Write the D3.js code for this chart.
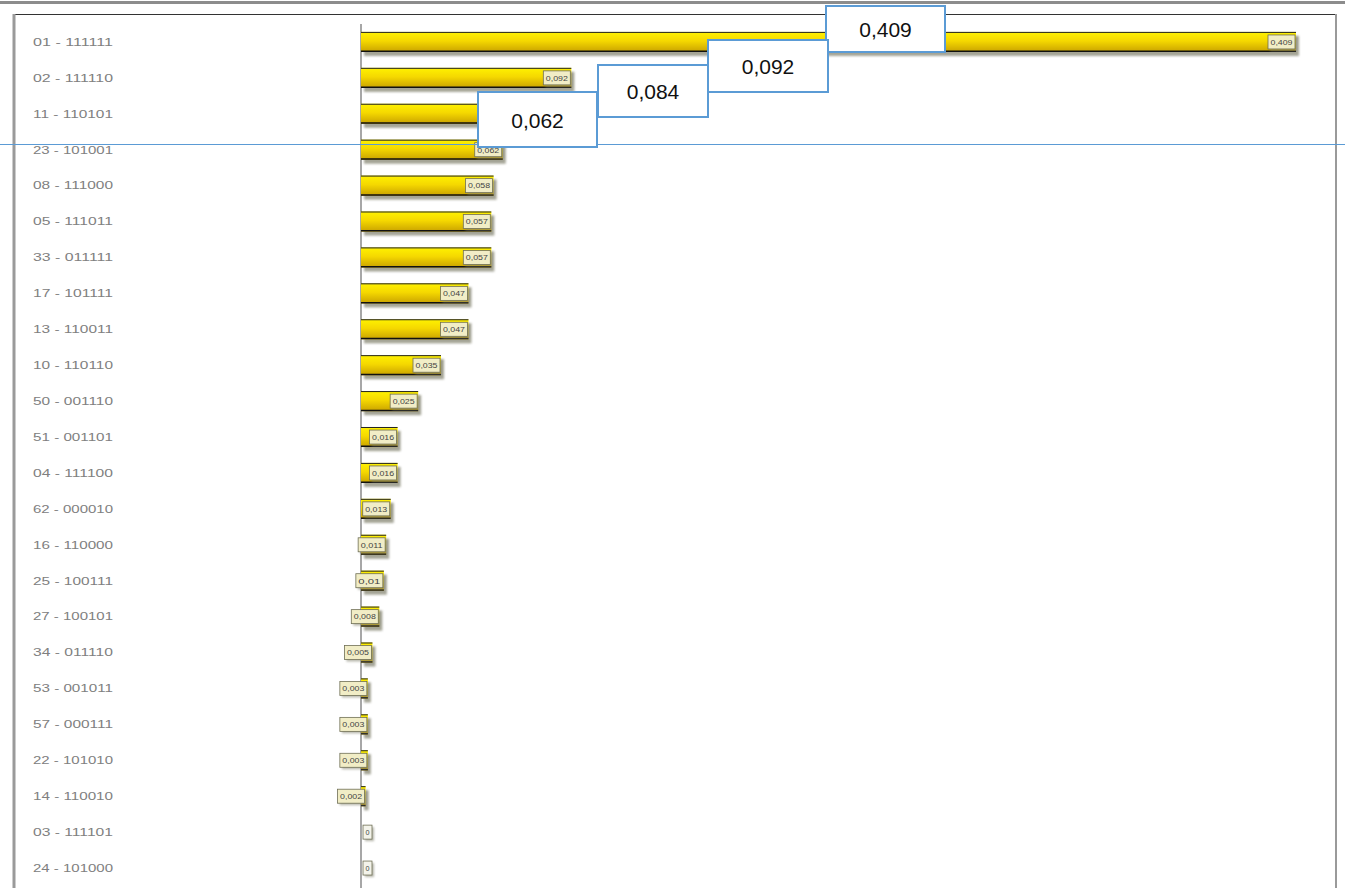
<!DOCTYPE html>
<html>
<head>
<meta charset="utf-8">
<script src="https://cdn.jsdelivr.net/npm/d3@7"></script>
<style>
  html, body { margin: 0; padding: 0; background: #fff; }
  svg { display: block; }
</style>
</head>
<body>
<div id="chart"></div>
<script>
// categories and values
var categories = ["01 - 111111", "02 - 111110", "11 - 110101", "23 - 101001", "08 - 111000", "05 - 111011",
    "33 - 011111", "17 - 101111", "13 - 110011", "10 - 110110", "50 - 001110", "51 - 001101",
    "04 - 111100", "62 - 000010", "16 - 110000", "25 - 100111", "27 - 100101", "34 - 011110",
    "53 - 001011", "57 - 000111", "22 - 101010", "14 - 110010", "03 - 111101", "24 - 101000"];
var values = [0.409, 0.092, 0.084, 0.062, 0.058, 0.057, 0.057, 0.047, 0.047, 0.035, 0.025, 0.016,
    0.016, 0.013, 0.011, 0.01, 0.008, 0.005, 0.003, 0.003, 0.003, 0.002, 0, 0];
var callouts = ["0,409", "0,092", "0,084", "0,062"];

var W = 1345, H = 888;

var fmt = function (v) {
    return v === 0 ? "0" : String(v).replace(".", ",");
};

var svg = d3.select("#chart").append("svg")
    .attr("width", W)
    .attr("height", H)
    .attr("font-family", "Liberation Sans, Arial, sans-serif");

var defs = svg.append("defs");
var grad = defs.append("linearGradient").attr("id", "gold").attr("x1", 0).attr("y1", 0).attr("x2", 0).attr("y2", 1);
grad.append("stop").attr("offset", "0%").attr("stop-color", "#fff200");
grad.append("stop").attr("offset", "45%").attr("stop-color", "#f5d800");
grad.append("stop").attr("offset", "100%").attr("stop-color", "#c9a200");
var blur = defs.append("filter").attr("id", "soft").attr("x", "-10%").attr("y", "-50%").attr("width", "130%").attr("height", "200%");
blur.append("feGaussianBlur").attr("stdDeviation", 1.2);

// frame
svg.append("rect").attr("x", 0).attr("y", 1).attr("width", W).attr("height", 3).attr("fill", "#8c8c8c");
svg.append("line").attr("x1", 13).attr("x2", 1336).attr("y1", 14.5).attr("y2", 14.5).attr("stroke", "#333").attr("stroke-width", 1);
svg.append("line").attr("x1", 14).attr("x2", 14).attr("y1", 14).attr("y2", H).attr("stroke", "#9a9a9a").attr("stroke-width", 3);
svg.append("line").attr("x1", 1336).attr("x2", 1336).attr("y1", 14).attr("y2", H).attr("stroke", "#9a9a9a").attr("stroke-width", 2);

var x = d3.scaleLinear().domain([0, 0.409]).range([361, 1296]);
var y = d3.scaleBand().domain(categories).range([24, 886]).paddingInner(0.44).paddingOuter(0.22);

// category labels
svg.append("g").selectAll("text")
    .data(categories)
    .enter()
    .append("text")
    .attr("x", 33)
    .attr("y", function (d) { return y(d) + y.bandwidth() / 2; })
    .attr("dy", "0.35em")
    .attr("font-size", 11)
    .attr("fill", "#808080")
    .attr("textLength", 80)
    .attr("lengthAdjust", "spacingAndGlyphs")
    .text(function (d) { return d; });

// zero axis
svg.append("line")
    .attr("x1", x(0)).attr("x2", x(0))
    .attr("y1", 24).attr("y2", H)
    .attr("stroke", "#8a8a8a").attr("stroke-width", 1.5);

var rows = values.map(function (v, i) { return { name: categories[i], value: v }; });

var bar = svg.append("g").selectAll("g")
    .data(rows)
    .enter()
    .append("g")
    .attr("transform", function (d) { return "translate(0," + y(d.name) + ")"; });

// shadow
bar.filter(function (d) { return d.value > 0; })
    .append("rect")
    .attr("x", x(0) + 3)
    .attr("y", 4)
    .attr("width", function (d) { return x(d.value) - x(0); })
    .attr("height", y.bandwidth())
    .attr("fill", "#7f7f6a")
    .attr("opacity", 0.7)
    .attr("filter", "url(#soft)");

bar.filter(function (d) { return d.value > 0; })
    .append("rect")
    .attr("x", x(0))
    .attr("y", 0)
    .attr("width", function (d) { return x(d.value) - x(0); })
    .attr("height", y.bandwidth())
    .attr("fill", "url(#gold)");

bar.filter(function (d) { return d.value > 0; })
    .append("line")
    .attr("x1", x(0)).attr("x2", function (d) { return x(d.value); })
    .attr("y1", 0.5).attr("y2", 0.5)
    .attr("stroke", "#222");
bar.filter(function (d) { return d.value > 0; })
    .append("line")
    .attr("x1", x(0)).attr("x2", function (d) { return x(d.value); })
    .attr("y1", y.bandwidth() - 0.75).attr("y2", y.bandwidth() - 0.75)
    .attr("stroke", "#111").attr("stroke-width", 1.5);

// value label boxes
var lab = bar.append("g")
    .attr("transform", function (d) {
        var w = d.value === 0 ? 9 : 27;
        var right = d.value === 0 ? x(0) + 11 : x(d.value) - 1;
        return "translate(" + (right - w) + "," + (y.bandwidth() / 2 - 7) + ")";
    });
lab.append("rect")
    .attr("x", 2).attr("y", 2)
    .attr("width", function (d) { return d.value === 0 ? 9 : 27; })
    .attr("height", 14)
    .attr("fill", "#8a8a78").attr("opacity", 0.6)
    .attr("filter", "url(#soft)");
lab.append("rect")
    .attr("width", function (d) { return d.value === 0 ? 9 : 27; })
    .attr("height", 14)
    .attr("fill", function (d) { return d.value === 0 ? "#f3f3ea" : "#f1edc6"; })
    .attr("stroke", "#6f6f55").attr("stroke-width", 0.8);
lab.append("text")
    .attr("x", function (d) { return d.value === 0 ? 4.5 : 13.5; })
    .attr("y", 7)
    .attr("dy", "0.35em")
    .attr("text-anchor", "middle")
    .attr("font-size", 8)
    .attr("fill", "#444")
    .attr("textLength", function (d) { return d.value === 0 ? 4 : 22; })
    .attr("lengthAdjust", "spacingAndGlyphs")
    .text(function (d) { return fmt(d.value); });

// blue callouts drawn over the chart
var calloutBoxes = [
    { x: 826, y: 6, w: 119, h: 46 },
    { x: 708, y: 40, w: 120, h: 52 },
    { x: 598, y: 65, w: 110, h: 52 },
    { x: 478, y: 92, w: 119, h: 55 }
];
svg.append("line")
    .attr("x1", 0).attr("x2", W)
    .attr("y1", 144.5).attr("y2", 144.5)
    .attr("stroke", "#5b9bd5").attr("stroke-width", 1);

var co = svg.append("g").selectAll("g")
    .data(callouts)
    .enter()
    .append("g")
    .attr("transform", function (d, i) { return "translate(" + calloutBoxes[i].x + "," + calloutBoxes[i].y + ")"; });
co.append("rect")
    .attr("width", function (d, i) { return calloutBoxes[i].w; })
    .attr("height", function (d, i) { return calloutBoxes[i].h; })
    .attr("fill", "#fff")
    .attr("stroke", "#5b9bd5")
    .attr("stroke-width", 2);
co.append("text")
    .attr("x", function (d, i) { return calloutBoxes[i].w / 2; })
    .attr("y", function (d, i) { return calloutBoxes[i].h / 2 + 1; })
    .attr("dy", "0.35em")
    .attr("text-anchor", "middle")
    .attr("font-size", 21)
    .attr("fill", "#111")
    .text(function (d) { return d; });
</script>
</body>
</html>
